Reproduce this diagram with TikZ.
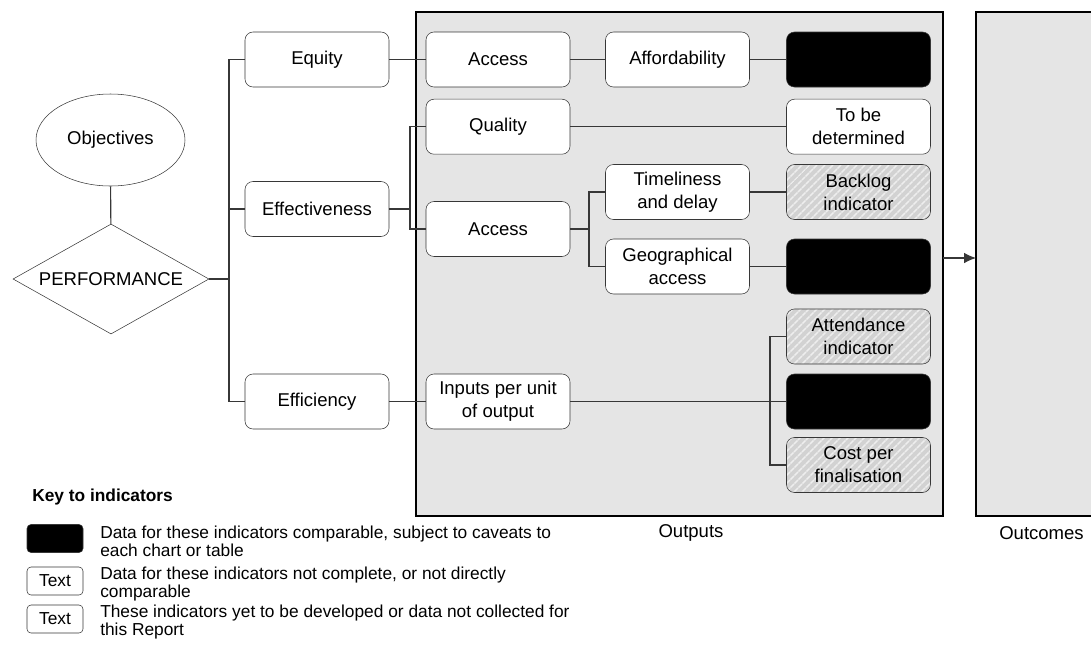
\documentclass[tikz,border=0pt]{standalone}
\usepackage{fontspec}
\setmainfont{Liberation Sans}
\usetikzlibrary{shapes.geometric,patterns.meta,arrows.meta}
\definecolor{panelgray}{RGB}{229,229,229}
\definecolor{hatchgray}{RGB}{210,210,210}
\definecolor{hatchline}{RGB}{238,238,238}
\definecolor{linegray}{RGB}{55,55,55}
\newcommand\boxfont{\fontsize{13.9}{17.25}\selectfont}
\newcommand\keyfont{\fontsize{13}{13.5}\selectfont}

\begin{document}
\begin{tikzpicture}[x=0.75pt, y=-0.75pt, >={Latex[length=9pt,width=8pt]},
  box/.style={rectangle, rounded corners=6pt, draw=linegray, fill=white,
    minimum width=108pt, minimum height=41.25pt, inner sep=1pt,
    align=center, font=\boxfont},
  blackbox/.style={box, fill=black},
  hatchbox/.style={box, preaction={fill=hatchgray},
    pattern={Lines[angle=45,distance=4pt,line width=1.2pt]}, pattern color=hatchline},
  keybox/.style={rectangle, rounded corners=3pt, draw=linegray, fill=white,
    minimum width=42pt, minimum height=21pt, inner sep=0pt, font=\keyfont},
  keytext/.style={anchor=west, align=left, inner sep=0pt, font=\keyfont},
  frame/.style={draw=black, line width=1.4pt, fill=panelgray},
  conn/.style={draw=linegray, line width=0.8pt}]
  \useasboundingbox (0,0) rectangle (1091,644);

  % panels
  \draw[frame] (416,12) rectangle (943,516);
  \fill[panelgray] (976,12) rectangle (1091,516);
  \draw[black, line width=1.4pt] (1091,12) -- (976,12) -- (976,516) -- (1091,516);
  \coordinate (outc) at (976,258);

  % left side
  \node[ellipse, draw=linegray, minimum width=111.75pt, minimum height=69pt,
    font=\boxfont] (obj) at (110.5,140) {Objectives};
  \node[diamond, draw=linegray, shape aspect=1.78, inner sep=0pt,
    minimum width=147pt, minimum height=82.5pt, font=\boxfont] (perf) at (111,279) {PERFORMANCE};
  \node[box] (eq) at (317,59.5) {Equity};
  \node[box] (eff) at (317,209) {Effectiveness};
  \node[box] (effi) at (317,401.5) {Efficiency};

  % outputs
  \node[box] (acc1) at (498,59.5) {Access};
  \node[box] (afford) at (677.5,59.5) {Affordability};
  \node[blackbox] (blk1) at (858.5,59.5) {};
  \node[box] (qual) at (498,126.7) {Quality};
  \node[box] (tbd) at (858.5,126.7) {To be\\determined};
  \node[box] (acc2) at (498,229) {Access};
  \node[box] (time) at (677.5,192) {Timeliness\\and delay};
  \node[hatchbox] (backlog) at (858.5,192) {Backlog\\indicator};
  \node[box] (geo) at (677.5,266.5) {Geographical\\access};
  \node[blackbox] (blk2) at (858.5,266.5) {};
  \node[box] (inp) at (498,401.5) {Inputs per unit\\of output};
  \node[hatchbox] (att) at (858.5,336.5) {Attendance\\indicator};
  \node[blackbox] (blk3) at (858.5,401.5) {};
  \node[hatchbox] (cost) at (858.5,465) {Cost per\\finalisation};

  \node[font=\boxfont] (outlbl) at (691,533) {Outputs};
  \node[font=\boxfont] (outclbl) at (1041.5,533) {Outcomes};

  % connectors
  \coordinate (t1) at (229,279);
  \coordinate (t2) at (410,209);
  \coordinate (t3) at (589,229);
  \coordinate (t4) at (770,401.5);
  \draw[conn] (obj) -- (perf);
  \draw[conn] (perf.east) -- (t1);
  \draw[conn] (eq.west) -| (t1) |- (effi.west);
  \draw[conn] (t1) |- (eff.west);
  \draw[conn] (eq) -- (acc1) -- (afford) -- (blk1);
  \draw[conn] (eff.east) -- (t2);
  \draw[conn] (qual.west) -| (t2) |- (acc2.west);
  \draw[conn] (qual) -- (tbd);
  \draw[conn] (acc2.east) -- (t3);
  \draw[conn] (time.west) -| (t3) |- (geo.west);
  \draw[conn] (time) -- (backlog);
  \draw[conn] (geo) -- (blk2);
  \draw[conn] (effi) -- (inp);
  \draw[conn] (inp.east) -- (t4);
  \draw[conn] (att.west) -| (t4) |- (cost.west);
  \draw[conn] (t4) -- (blk3);
  \draw[conn, ->] (outc -| 943,0) -- (outc);

  % key
  \node[anchor=west, inner sep=0pt, font=\keyfont\bfseries] (keytitle) at (32,497) {Key to indicators};
  \node[keybox, fill=black] (k1) at (55,538.5) {};
  \node[keybox] (k2) at (55,581) {Text};
  \node[keybox] (k3) at (55,619) {Text};
  \node[keytext] (k1t) at (100,541) {Data for these indicators comparable, subject to caveats to\\each chart or table};
  \node[keytext] (k2t) at (100,584) {Data for these indicators not complete, or not directly\\comparable};
  \node[keytext] (k3t) at (100,622) {These indicators yet to be developed or data not collected for\\this Report};
\end{tikzpicture}
\end{document}
